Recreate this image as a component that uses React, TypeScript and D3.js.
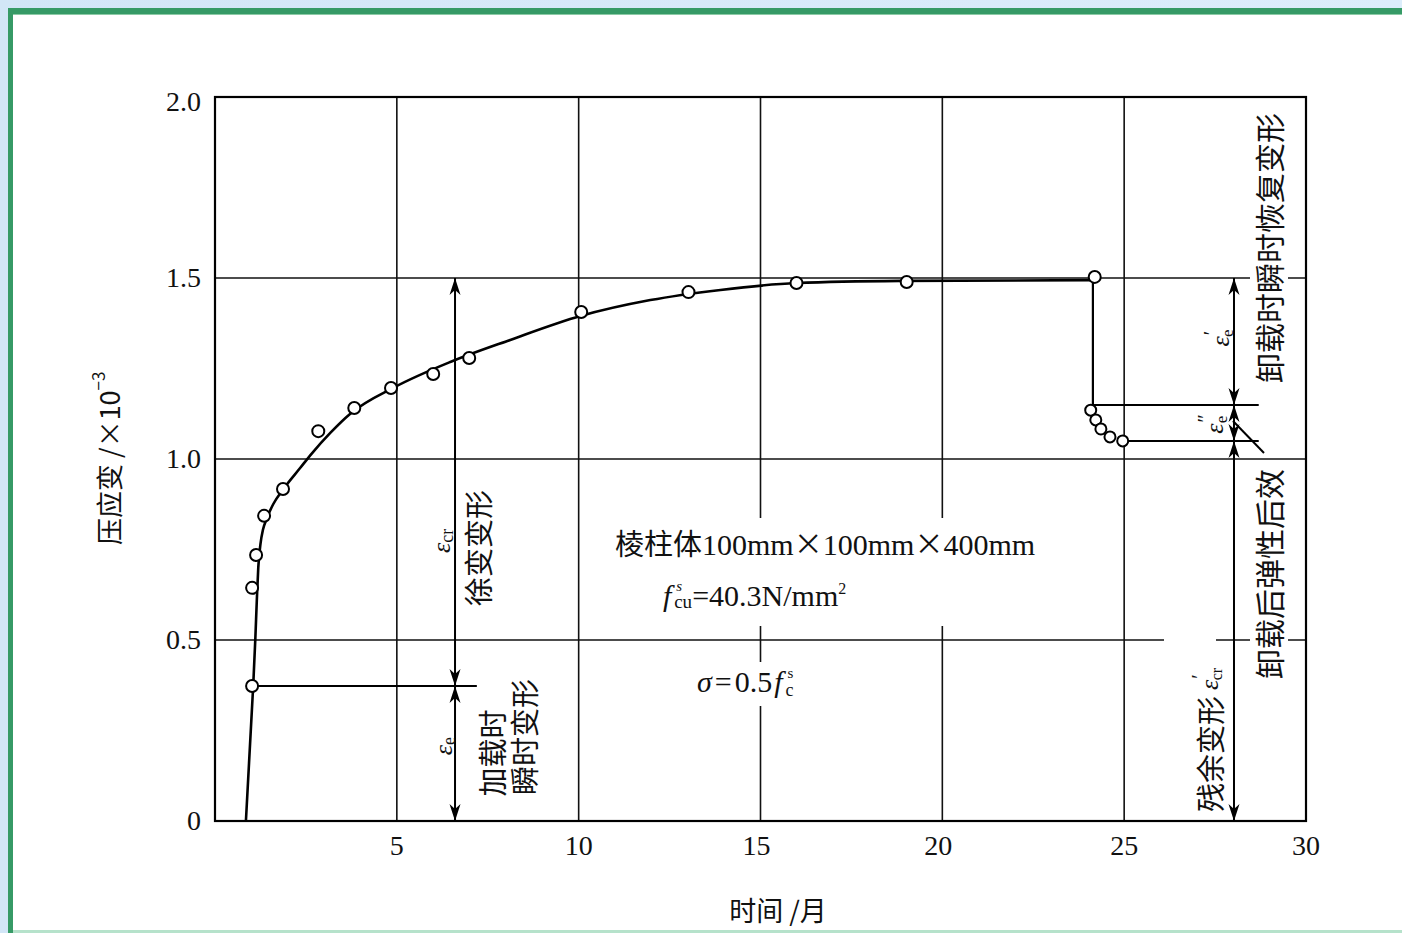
import React from "react";
import * as d3 from "d3";

// axis ticks
const xTicks = [5, 10, 15, 20, 25, 30];
const yTicks = [0, 0.5, 1.0, 1.5, 2.0];
const yTickLabels = ["0", "0.5", "1.0", "1.5", "2.0"];

// measured points under load (month, strain x10^-3)
const loadMonths = [1.02, 1.02, 1.13, 1.35, 1.87, 2.84, 3.83, 4.84, 6.0, 6.99, 10.07, 13.02, 15.99, 19.02, 24.19];
const loadStrains = [0.373, 0.644, 0.735, 0.843, 0.917, 1.077, 1.141, 1.196, 1.235, 1.279, 1.406, 1.461, 1.486, 1.489, 1.503];

// measured points after unloading
const unloadMonths = [24.08, 24.22, 24.36, 24.61, 24.96];
const unloadStrains = [1.135, 1.108, 1.083, 1.061, 1.05];

// fitted creep curve
const curveMonths = [0.85, 1.05, 1.11, 1.15, 1.19, 1.25, 1.32, 1.42, 1.6, 1.88, 2.34, 2.66, 3.17, 3.72, 4.95, 6.47, 8.12, 10.05, 11.97, 13.9, 15.99, 18.85, 24.14];
const curveStrains = [0, 0.373, 0.506, 0.61, 0.7, 0.765, 0.805, 0.835, 0.875, 0.917, 0.975, 1.015, 1.072, 1.125, 1.199, 1.268, 1.329, 1.395, 1.439, 1.467, 1.486, 1.492, 1.494];

// levels used by the dimension arrows
const instantStrain = 0.373;
const peakStrain = 1.5;
const recoverStrain = 1.149;
const afterStrain = 1.05;
const unloadMonth = 24.14;
const leftArrowMonth = 6.6;
const leftLineEnd = 7.2;
const rightArrowMonth = 28.02;
const rightLineEnd = 28.7;

const W = 1402;
const H = 933;
const serif = "'Liberation Serif', 'DejaVu Serif', serif";
const cjk = "'Noto Sans CJK SC', 'Noto Sans', sans-serif";

const x = d3.scaleLinear().domain([0, 30]).range([215, 1306]);
const y = d3.scaleLinear().domain([0, 2]).range([821, 97]);

// barbed arrow head, tip at (px,py); dir 1 = points down, -1 = points up
const head = (px: number, py: number, dir: number) =>
  `M${px},${py} L${px - 5.5},${py - dir * 17} L${px},${py - dir * 12} L${px + 5.5},${py - dir * 17} Z`;

const VText = ({ cx, cy, size = 29, children, anchor = "middle" }: any) => (
  <text
    transform={`translate(${cx},${cy}) rotate(-90)`}
    textAnchor={anchor}
    dominantBaseline="central"
    fontFamily={cjk}
    fontSize={size}
    fill="#111"
  >
    {children}
  </text>
);

// epsilon with optional prime and subscript, rotated
const Eps = ({ cx, cy, sub, prime }: any) => (
  <text
    transform={`translate(${cx},${cy}) rotate(-90)`}
    textAnchor="middle"
    dominantBaseline="central"
    fontFamily={serif}
    fontSize={26}
    fill="#111"
  >
    <tspan fontStyle="italic">ε</tspan>
    {prime ? (
      <>
        <tspan fontSize={20} dx={1} dy={-9}>{prime}</tspan>
        <tspan fontSize={17} dx={prime === "″" ? -9 : -6} dy={16}>{sub}</tspan>
      </>
    ) : (
      <tspan fontSize={18} dy={6}>{sub}</tspan>
    )}
  </text>
);

export default function App() {
  const curve = d3
    .line<number>()
    .x((_, i) => x(curveMonths[i]))
    .y((_, i) => y(curveStrains[i]))
    .curve(d3.curveMonotoneX)(curveMonths);

  const xl = x(leftArrowMonth);
  const xr = x(rightArrowMonth);

  return (
    <div style={{ position: "fixed", left: 0, top: 0 }}>
      <svg width={W} height={H} style={{ display: "block" }}>
        <defs>
          <linearGradient id="bg" x1="0" x2="1" y1="0" y2="0">
            <stop offset="0" stopColor="#d2e6f7" />
            <stop offset="1" stopColor="#dcedfb" />
          </linearGradient>
        </defs>
        <rect width={W} height={H} fill="url(#bg)" />
        <rect x={13} y={14} width={W - 13} height={H - 17} fill="#fff" />
        <rect x={8} y={8} width={W - 8} height={6} fill="#369a66" />
        <rect x={8} y={14} width={W - 8} height={1} fill="#8ccaa6" />
        <rect x={8} y={8} width={5} height={H - 8} fill="#369a66" />
        <rect x={13} y={930} width={W - 13} height={3} fill="#b6e2cb" />

        {/* grid */}
        <g stroke="#111" strokeWidth={1.6}>
          {xTicks.slice(0, -1).map((t) => (
            <line key={"gx" + t} x1={x(t)} x2={x(t)} y1={y(2)} y2={y(0)} />
          ))}
          {yTicks.slice(1, -1).map((t) => (
            <line key={"gy" + t} x1={x(0)} x2={x(30)} y1={y(t)} y2={y(t)} />
          ))}
        </g>

        {/* white gaps behind labels */}
        <g fill="#fff">
          <rect x={608} y={518} width={445} height={108} />
          <rect x={693} y={662} width={122} height={44} />
          <rect x={1250} y={105} width={38} height={285} />
          <rect x={1250} y={462} width={38} height={224} />
          <rect x={1164} y={628} width={52} height={60} />
        </g>

        {/* frame */}
        <rect x={x(0)} y={y(2)} width={x(30) - x(0)} height={y(0) - y(2)} fill="none" stroke="#000" strokeWidth={2.2} />

        {/* tick labels */}
        <g fontFamily={serif} fontSize={28} fill="#111">
          {yTicks.map((t, i) => (
            <text key={"ty" + t} x={201} y={y(t) + (t === 2 ? 14 : 9)} textAnchor="end">
              {yTickLabels[i]}
            </text>
          ))}
          {xTicks.map((t) => (
            <text key={"tx" + t} x={x(t) - (t === 15 ? 4 : t === 20 ? 4 : 0)} y={855} textAnchor="middle">
              {t}
            </text>
          ))}
        </g>

        {/* axis titles */}
        <text
          transform={`translate(108,545) rotate(-90)`}
          dominantBaseline="central"
          fontFamily={cjk}
          fontSize={27}
          fill="#111"
        >
          压应变 /×10<tspan fontSize={17} dy={-11}>−3</tspan>
        </text>
        <text x={778} y={921} textAnchor="middle" fontFamily={cjk} fontSize={27} fill="#111">
          时间 /月
        </text>

        {/* creep curve */}
        <path d={curve || ""} fill="none" stroke="#000" strokeWidth={2.6} />
        <path
          d={`M${x(unloadMonth)},${y(curveStrains[curveStrains.length - 1])} V${y(recoverStrain)}`}
          fill="none"
          stroke="#000"
          strokeWidth={2.2}
        />

        {/* dimension lines */}
        <g stroke="#000" strokeWidth={2}>
          <line x1={x(loadMonths[0])} x2={x(leftLineEnd)} y1={y(instantStrain)} y2={y(instantStrain)} />
          <line x1={xl} x2={xl} y1={y(peakStrain)} y2={y(0)} />
          <line x1={x(unloadMonth)} x2={x(rightLineEnd)} y1={y(recoverStrain)} y2={y(recoverStrain)} />
          <line x1={x(unloadMonths[4])} x2={x(rightLineEnd)} y1={y(afterStrain)} y2={y(afterStrain)} />
          <line x1={xr} x2={xr} y1={y(peakStrain)} y2={y(0)} />
          <line x1={xr - 1} y1={y(1.105)} x2={xr + 30} y2={y(1.0) - 6} />
        </g>
        <g fill="#000">
          <path d={head(xl, y(peakStrain), -1)} />
          <path d={head(xl, y(instantStrain), 1)} />
          <path d={head(xl, y(instantStrain), -1)} />
          <path d={head(xl, y(0), 1)} />
          <path d={head(xr, y(peakStrain), -1)} />
          <path d={head(xr, y(recoverStrain), 1)} />
          <path d={head(xr, y(recoverStrain), -1)} />
          <path d={head(xr, y(afterStrain), 1)} />
          <path d={head(xr, y(afterStrain), -1)} />
          <path d={head(xr, y(0), 1)} />
        </g>

        {/* data points */}
        <g fill="#fff" stroke="#000" strokeWidth={2}>
          {loadMonths.map((m, i) => (
            <circle key={"l" + i} cx={x(m)} cy={y(loadStrains[i])} r={6} />
          ))}
          {unloadMonths.map((m, i) => (
            <circle key={"u" + i} cx={x(m)} cy={y(unloadStrains[i])} r={5.5} />
          ))}
        </g>

        {/* annotations, left */}
        <Eps cx={441} cy={541} sub="cr" />
        <VText cx={477} cy={548}>徐变变形</VText>
        <Eps cx={443} cy={746} sub="e" />
        <VText cx={491} cy={753}>加载时</VText>
        <VText cx={523} cy={737}>瞬时变形</VText>

        {/* annotations, right */}
        <Eps cx={1220} cy={338} sub="e" prime="′" />
        <Eps cx={1214} cy={424} sub="e" prime="″" />
        <text
          transform={`translate(1209,812) rotate(-90)`}
          dominantBaseline="central"
          fontFamily={cjk}
          fontSize={29}
          fill="#111"
        >
          残余变形
          <tspan fontFamily={serif} fontStyle="italic" fontSize={26} dx={6}>ε</tspan>
          <tspan fontFamily={serif} fontSize={20} dx={1} dy={-10}>′</tspan>
          <tspan fontFamily={serif} fontSize={16} dx={-6} dy={17}>cr</tspan>
        </text>
        <VText cx={1268} cy={248} size={30}>卸载时瞬时恢复变形</VText>
        <VText cx={1268} cy={574} size={30}>卸载后弹性后效</VText>

        {/* specimen info */}
        <text x={615} y={555} fontFamily={cjk} fontSize={29} fill="#111">
          棱柱体
          <tspan fontFamily={serif} fontSize={30}>100mm</tspan>×
          <tspan fontFamily={serif} fontSize={30}>100mm</tspan>×
          <tspan fontFamily={serif} fontSize={30}>400mm</tspan>
        </text>
        <text x={663} y={606} fontFamily={serif} fontSize={30} fill="#111">
          <tspan fontStyle="italic">f</tspan>
          <tspan fontSize={15} dx={5} dy={-15} fontStyle="italic">s</tspan>
          <tspan fontSize={19} dx={-8} dy={17}>cu</tspan>
          <tspan dy={-2}>=40.3N/mm</tspan>
          <tspan fontSize={16} dy={-12}>2</tspan>
        </text>
        <text x={697} y={692} fontFamily={serif} fontSize={30} fill="#111">
          <tspan fontStyle="italic">σ</tspan>
          <tspan dx={3}>=</tspan>
          <tspan dx={3}>0.5</tspan>
          <tspan fontStyle="italic" dx={2}>f</tspan>
          <tspan fontSize={15} dx={5} dy={-14}>s</tspan>
          <tspan fontSize={18} dx={-8} dy={18}>c</tspan>
        </text>
      </svg>
    </div>
  );
}
